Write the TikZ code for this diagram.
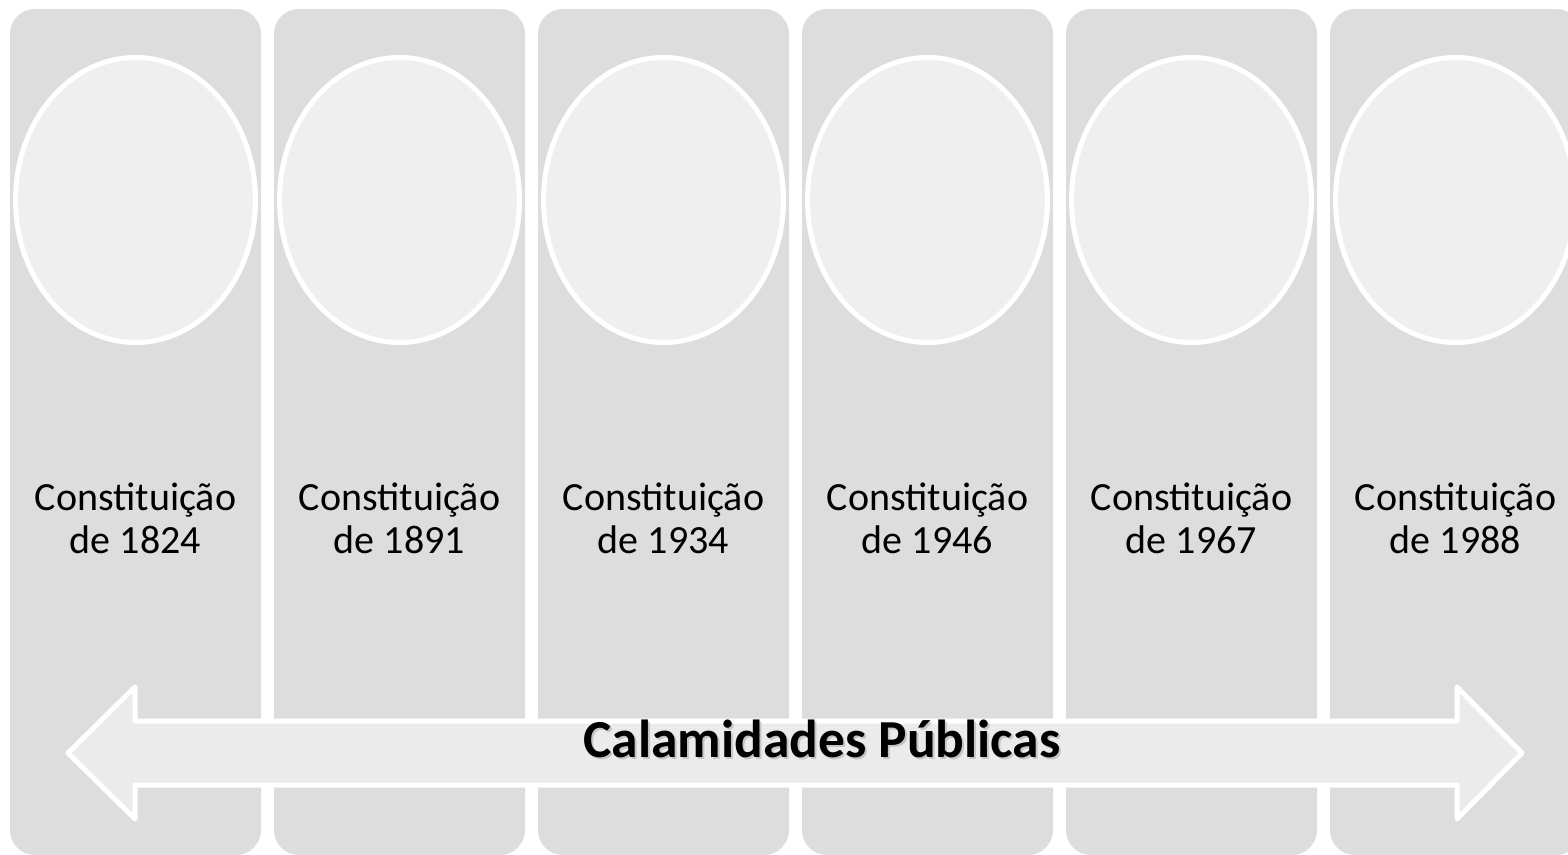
\documentclass[tikz,border=0pt]{standalone}
\usepackage{fontspec}
\setmainfont{Carlito}
\usetikzlibrary{positioning,shapes.geometric}
\definecolor{colgray}{HTML}{DDDDDD}
\definecolor{ovalgray}{HTML}{EFEFEF}
\definecolor{arrowgray}{HTML}{EBEBEB}

\begin{document}
\begin{tikzpicture}[x=1pt, y=-1pt, node distance=13pt,
  column/.style={fill=colgray, rounded corners=25pt, minimum width=251pt, minimum height=846pt, inner sep=0pt, outer sep=0pt},
  oval/.style={ellipse, draw=white, line width=5pt, fill=ovalgray, minimum width=240pt, minimum height=285pt, inner sep=0pt},
  year/.style={align=center, font=\fontsize{40}{43}\selectfont, text=black},
  banner/.style={fill=arrowgray, draw=white, line width=5pt, line join=round}]
\clip (0,0) rectangle (1568,854);
\fill[white] (0,0) rectangle (1568,854);

% columns, one per constitution
\node (col1) [column] at (135.5,432) {};
\node (col2) [column, right=of col1] {};
\node (col3) [column, right=of col2] {};
\node (col4) [column, right=of col3] {};
\node (col5) [column, right=of col4] {};
\node (col6) [column, right=of col5] {};

% empty circles on top
\node (oval1) [oval, below=46pt of col1.north] {};
\node (oval2) [oval, below=46pt of col2.north] {};
\node (oval3) [oval, below=46pt of col3.north] {};
\node (oval4) [oval, below=46pt of col4.north] {};
\node (oval5) [oval, below=46pt of col5.north] {};
\node (oval6) [oval, below=46pt of col6.north] {};

% years
\node (year1) [year] at (col1 |- 0,518) {Constituição\\de 1824};
\node (year2) [year] at (col2 |- 0,518) {Constituição\\de 1891};
\node (year3) [year] at (col3 |- 0,518) {Constituição\\de 1934};
\node (year4) [year] at (col4 |- 0,518) {Constituição\\de 1946};
\node (year5) [year] at (col5 |- 0,518) {Constituição\\de 1967};
\node (year6) [year] at (col6 |- 0,518) {Constituição\\de 1988};

% double arrow across all columns
\draw[banner] (68,753) -- (135,687) -- (135,721) -- (1457,721) -- (1457,687) -- (1522,753)
  -- (1457,819) -- (1457,785) -- (135,785) -- (135,819) -- cycle;
\node (titleshadow) [anchor=base, text=black!50, opacity=0.35, font=\fontsize{53.5}{60}\selectfont\bfseries] at (824,759.5) {Calamidades Públicas};
\node (title) [anchor=base, font=\fontsize{53.5}{60}\selectfont\bfseries] at (822,757) {Calamidades Públicas};
\end{tikzpicture}
\end{document}
